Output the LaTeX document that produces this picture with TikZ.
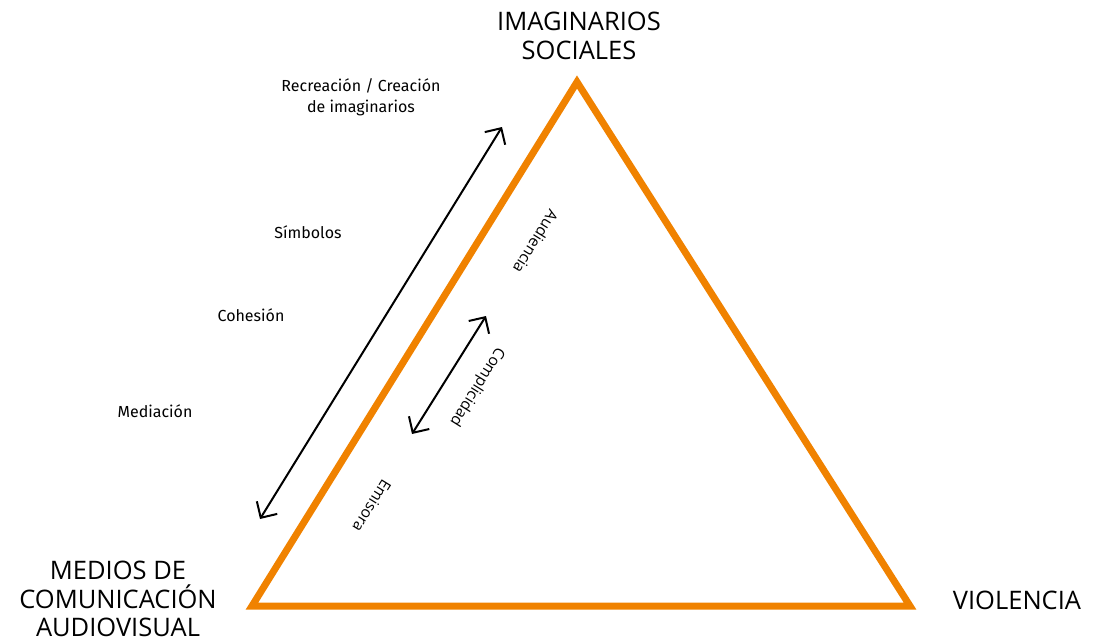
\documentclass[tikz,border=0pt]{standalone}
\usepackage{fontspec}
\setmainfont{Open Sans}
\newfontfamily\smallfont{Fira Sans}
\usepackage{tikz}
\usetikzlibrary{arrows.meta}
\definecolor{triorange}{RGB}{240,130,0}

\begin{document}
\begin{tikzpicture}[x=1pt,y=-1pt]
      \tikzstyle{every node}+=[inner sep=0pt]
      \tikzstyle{big}=[align=center,font=\fontsize{25.5}{28.5}\selectfont]
      \tikzstyle{small}=[align=center,font=\smallfont\fontsize{16}{21}\selectfont]
      \tikzstyle{side}=[font=\fontsize{15.5}{18}\selectfont,rotate=238.2]
      \tikzstyle{twoway}=[black,line width=2pt,{Straight Barb[length=12pt,width=24pt]}-{Straight Barb[length=12pt,width=24pt]}]
      \useasboundingbox (0,0) rectangle (1098,640);
      % triangle
      \coordinate (top) at (577,82);
      \coordinate (left) at (252,606);
      \coordinate (right) at (910,606);
      \draw [triorange,line width=7pt,line join=miter] (top) -- (left) -- (right) -- cycle;
      % corner labels
      \node [big] (imag) at (579,36) {IMAGINARIOS\\SOCIALES};
      \node [big] (medios) at (118,599) {MEDIOS DE\\COMUNICACIÓN\\AUDIOVISUAL};
      \node [big] (viol) at (1017,600) {VIOLENCIA};
      % left side
      \node [small] (recre) at (361,97) {Recreación / Creación\\de imaginarios};
      \node [small] (simb) at (308,232) {Símbolos};
      \node [small] (cohe) at (251,315) {Cohesión};
      \node [small] (medi) at (155,411) {Mediación};
      \coordinate (longa) at (260,519);
      \coordinate (longb) at (502,127);
      \draw [twoway] (longa) -- (longb);
      \coordinate (shorta) at (412,434);
      \coordinate (shortb) at (486,316);
      \draw [twoway] (shorta) -- (shortb);
      % inside labels
      \node [side] (aud) at (536,242) {Audiencia};
      \node [side] (comp) at (477,387) {Complicidad};
      \node [side] (emis) at (372,506) {Emisora};
    \end{tikzpicture}
\end{document}
